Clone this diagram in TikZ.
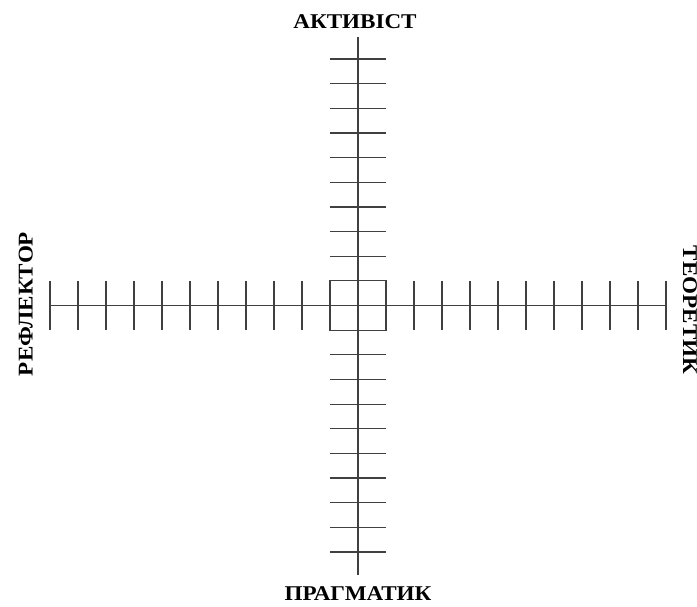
\documentclass[tikz,border=0pt]{standalone}
\usepackage{fontspec}
\setmainfont{Liberation Serif}[FakeStretch=1.1]
\begin{document}
\begin{tikzpicture}[x=1pt,y=-1pt,
  axis/.style={draw=black!75,line width=1.2pt},
  lab/.style={font=\bfseries\fontsize{21}{22}\selectfont, inner sep=0pt, anchor=base}]
\useasboundingbox (0,0) rectangle (697,606);
\coordinate (O) at (358,305.5);
\coordinate (L) at (50,305.5);
\coordinate (R) at (666,305.5);
\coordinate (T) at (358,37);
\coordinate (B) at (358,575);
\draw[axis] (L) -- (R);
\draw[axis] (T) -- (B);
\node[axis, minimum width=56pt, minimum height=49.3pt, inner sep=0pt, outer sep=0pt] (box) at (O) {};
\foreach \i in {2,...,11} {
  \draw[axis] (358-28*\i, 281) -- (358-28*\i, 330);
  \draw[axis] (358+28*\i, 281) -- (358+28*\i, 330);
}
\foreach \j in {2,...,10} {
  \draw[axis] (330, 305.5-24.65*\j) -- (386, 305.5-24.65*\j);
  \draw[axis] (330, 305.5+24.65*\j) -- (386, 305.5+24.65*\j);
}
\node[lab] (top) at (355,28.5) {АКТИВІСТ};
\node[lab] (bottom) at (358,600) {ПРАГМАТИК};
\node[lab, rotate=90] (left) at (32.5,304) {РЕФЛЕКТОР};
\node[lab, rotate=-90] (right) at (683,310) {ТЕОРЕТИК};
\end{tikzpicture}
\end{document}
